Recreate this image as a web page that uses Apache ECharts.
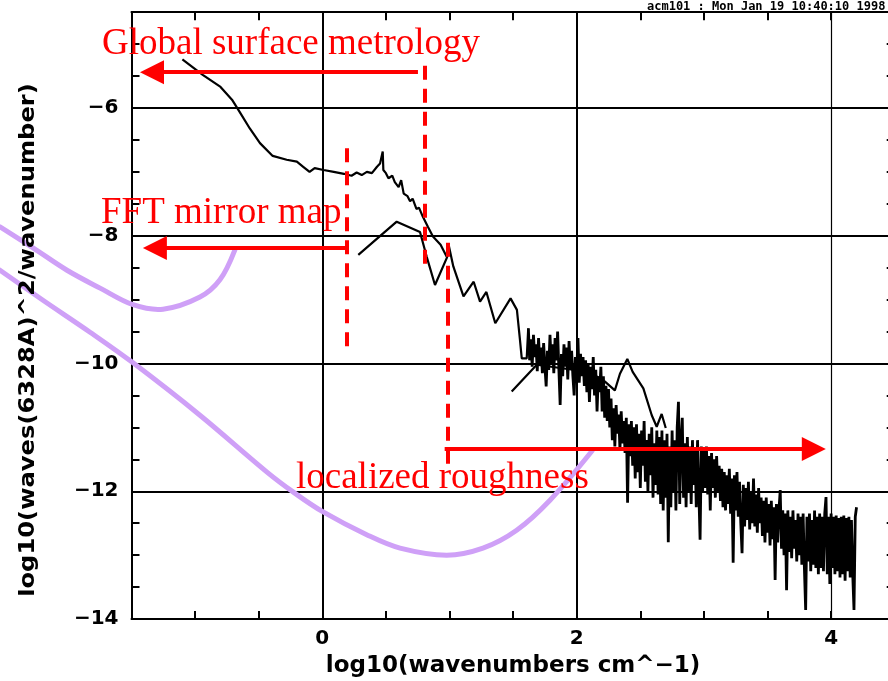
<!DOCTYPE html>
<html><head><meta charset="utf-8">
<script src="https://cdn.jsdelivr.net/npm/echarts@6/dist/echarts.min.js"></script>
<style>html,body{margin:0;padding:0;background:#fff}#c{width:888px;height:681px}</style>
</head><body><div id="c"></div>
<script>
// ---- axis ranges / ticks ----
const xRange = [-1.5, 4.5];
const yRange = [-14, -4.5];
const tickStep = 0.5;
const majorX = [0, 2, 4];
const majorY = [-6, -8, -10, -12];

// ---- black data curves [log10 wavenumber, log10 power] ----
const globalCurve = [[-1.10,-5.24],[-0.94,-5.48],[-0.80,-5.67],[-0.71,-5.87],[-0.65,-6.06],[-0.57,-6.32],[-0.49,-6.55],[-0.39,-6.75],[-0.28,-6.81],[-0.20,-6.84],[-0.15,-6.92],[-0.10,-7.00],[-0.06,-6.94],[0.01,-6.97],[0.09,-7.00],[0.17,-7.03],[0.23,-7.06],[0.27,-7.01],[0.31,-7.05],[0.35,-7.00],[0.39,-7.02],[0.43,-6.92],[0.454,-6.87],[0.475,-6.68],[0.48,-6.97],[0.50,-7.02],[0.52,-7.10],[0.55,-7.06],[0.57,-7.16],[0.60,-7.24],[0.62,-7.13],[0.64,-7.34],[0.67,-7.38],[0.69,-7.46],[0.71,-7.42],[0.74,-7.58],[0.76,-7.56],[0.79,-7.70],[0.83,-7.86],[0.87,-8.01],[0.93,-8.14],[0.978,-8.33],[0.991,-8.12],[1.03,-8.48],[1.11,-8.95],[1.19,-8.72],[1.24,-9.03],[1.29,-8.88],[1.36,-9.37],[1.48,-8.98],[1.53,-9.16],[1.554,-9.63],[1.568,-9.92],[1.607,-9.92],[1.619,-9.45]];
const fftCurve = [[0.283,-8.30],[0.585,-7.78],[0.768,-7.94],[0.821,-8.33],[0.886,-8.77],[0.978,-8.35],[0.99,-8.28]];
const sliceCurve = [[1.489,-10.44],[1.686,-10.02],[1.87,-10.07],[2.10,-10.13],[2.22,-10.28],[2.30,-10.42],[2.34,-10.16],[2.398,-9.93],[2.44,-10.13],[2.524,-10.39],[2.59,-10.81],[2.629,-10.99],[2.668,-10.79],[2.70,-11.01]];
const roughness = [[1.62,-9.45],[1.63,-9.95],[1.64,-9.62],[1.65,-10.05],[1.66,-9.55],[1.67,-9.9],[1.68,-9.7],[1.69,-10.12],[1.70,-9.6],[1.71,-10.0],[1.72,-9.75],[1.73,-10.15],[1.74,-9.68],[1.75,-10.05],[1.76,-10.36],[1.77,-9.8],[1.78,-10.1],[1.79,-9.55],[1.80,-10.0],[1.81,-9.7],[1.82,-10.15],[1.83,-9.6],[1.84,-9.95],[1.85,-9.5],[1.86,-10.1],[1.87,-10.65],[1.88,-9.85],
[1.89,-10.2],[1.90,-9.7],[1.91,-10.05],[1.92,-9.75],[1.93,-10.25],[1.94,-9.65],[1.95,-10.1],[1.96,-9.8],[1.97,-10.2],[1.98,-10.5],[1.99,-9.9],[2.00,-10.15],[2.01,-9.6],[2.02,-10.3],[2.03,-9.85],[2.04,-10.2],[2.05,-9.9],
[2.06,-10.35],[2.07,-9.95],[2.08,-10.45],[2.09,-10.0],[2.10,-10.6],[2.11,-10.05],[2.12,-10.4],[2.13,-9.9],[2.14,-10.5],[2.15,-10.1],[2.16,-10.75],[2.17,-10.2],[2.18,-10.45],[2.19,-10.05],[2.20,-10.75],[2.21,-10.2],[2.22,-10.85],[2.23,-10.35],[2.24,-10.9],[2.25,-10.4],
[2.26,-11.0],[2.27,-10.55],[2.28,-11.2],[2.29,-10.7],[2.30,-11.3],[2.31,-10.65],[2.32,-11.1],[2.33,-10.8],[2.34,-11.35],[2.35,-10.75],[2.36,-11.25],[2.37,-10.9],[2.38,-11.4],[2.39,-10.85],[2.40,-12.18],[2.41,-10.95],[2.42,-11.45],
[2.43,-10.9],[2.44,-11.6],[2.45,-11.0],[2.46,-11.8],[2.47,-10.95],[2.48,-11.7],[2.49,-11.1],[2.50,-11.95],[2.51,-11.05],[2.52,-11.6],[2.53,-10.9],[2.54,-11.85],[2.55,-11.2],[2.56,-12.0],[2.57,-11.1],[2.58,-11.75],[2.59,-11.0],[2.60,-12.1],[2.61,-11.25],[2.62,-11.9],[2.63,-11.05],[2.64,-12.05],[2.65,-11.15],
[2.66,-12.2],[2.67,-11.05],[2.68,-12.3],[2.69,-11.2],[2.70,-12.1],[2.71,-11.1],[2.72,-12.8],[2.73,-11.3],[2.74,-12.25],[2.75,-11.05],[2.76,-12.0],[2.77,-11.2],[2.78,-12.3],[2.79,-11.0],[2.80,-10.6],[2.81,-12.2],
[2.82,-11.2],[2.83,-10.85],[2.84,-12.1],[2.85,-11.25],[2.86,-12.25],[2.87,-11.15],[2.88,-12.0],[2.89,-11.3],[2.90,-12.2],[2.91,-11.2],[2.92,-11.9],[2.93,-11.35],[2.94,-12.25],[2.95,-11.2],[2.96,-12.0],[2.97,-12.76],[2.98,-11.3],
[2.99,-12.0],[3.00,-11.35],[3.01,-11.95],[3.02,-11.3],[3.03,-12.05],[3.04,-11.45],[3.05,-12.3],[3.06,-11.4],[3.07,-11.95],[3.08,-11.5],[3.09,-12.1],[3.10,-11.45],[3.11,-12.0],[3.12,-11.6],[3.13,-12.15],
[3.14,-11.65],[3.15,-12.25],[3.16,-11.7],[3.17,-12.3],[3.18,-11.75],[3.19,-12.2],[3.20,-11.65],[3.21,-12.35],[3.22,-11.8],[3.23,-13.12],[3.24,-11.75],[3.25,-12.3],[3.26,-11.7],[3.27,-12.4],[3.28,-11.85],
[3.29,-12.5],[3.30,-12.97],[3.31,-11.9],[3.32,-12.55],[3.33,-11.95],[3.34,-12.45],[3.35,-11.85],[3.36,-12.6],[3.37,-12.0],[3.38,-12.5],[3.39,-11.8],[3.40,-12.55],[3.41,-12.05],[3.42,-12.65],[3.43,-11.95],[3.44,-12.5],
[3.45,-12.1],[3.46,-12.7],[3.47,-12.15],[3.48,-12.8],[3.49,-12.1],[3.50,-12.65],[3.51,-12.2],[3.52,-12.85],[3.53,-12.15],[3.54,-12.75],[3.55,-12.25],[3.56,-13.39],[3.57,-12.2],[3.58,-12.8],[3.59,-12.3],[3.60,-11.98],[3.61,-12.9],
[3.62,-12.3],[3.63,-13.0],[3.64,-12.35],[3.65,-13.55],[3.66,-12.3],[3.67,-12.95],[3.68,-12.4],[3.69,-13.05],[3.70,-12.3],[3.71,-12.9],[3.72,-12.45],[3.73,-13.1],[3.74,-12.35],[3.75,-13.0],[3.76,-12.4],
[3.77,-13.15],[3.78,-12.35],[3.79,-13.2],[3.80,-13.86],[3.81,-12.4],[3.82,-13.1],[3.83,-12.35],[3.84,-13.25],[3.85,-12.45],[3.86,-13.15],[3.87,-12.3],[3.88,-13.2],[3.89,-12.4],[3.90,-13.3],[3.91,-12.35],
[3.92,-13.2],[3.93,-12.4],[3.94,-13.25],[3.95,-12.35],[3.96,-12.09],[3.97,-13.3],[3.98,-12.4],[3.99,-13.45],[4.00,-12.35],[4.01,-13.2],[4.02,-12.4],[4.03,-13.3],[4.04,-12.38],[4.05,-13.25],[4.06,-12.42],[4.07,-13.35],
[4.08,-12.4],[4.09,-13.3],[4.10,-12.38],[4.11,-13.4],[4.12,-12.42],[4.13,-13.25],[4.14,-12.4],[4.15,-13.35],[4.16,-12.45],[4.17,-13.3],[4.18,-13.86],[4.19,-12.4],[4.20,-12.25]];

// ---- purple hand-drawn curves ----
const purpleUpper = [[-2.534,-7.86],[-2.274,-8.19],[-2.007,-8.54],[-1.747,-8.82],[-1.488,-9.08],[-1.252,-9.15],[-0.962,-8.96],[-0.805,-8.69],[-0.687,-8.22]];
const purpleLower = [[-2.534,-8.54],[-2.196,-9.01],[-1.826,-9.51],[-1.488,-9.99],[-0.962,-10.81],[-0.435,-11.70],[-0.230,-12.01],[0.003,-12.32],[0.349,-12.68],[0.611,-12.89],[0.978,-13.00],[1.263,-12.89],[1.528,-12.61],[1.790,-12.14],[2.120,-11.37]];

// ---- red annotations ----
const arrowLines = [
  [[0.752,-5.44],[-1.339,-5.44]],
  [[0.192,-8.19],[-1.316,-8.19]],
  [[0.962,-11.34],[3.864,-11.34]]
];
const dashLines = [
  [[0.808,-5.34],[0.808,-8.54]],
  [[0.192,-6.63],[0.192,-9.87]],
  [[0.986,-8.11],[0.986,-11.62]]
];
const redTexts = [
  {text:'Global surface metrology', x:102, y:44},
  {text:'FFT mirror map', x:101, y:213},
  {text:'localized roughness', x:296, y:478}
];
const yTitle = 'log10(waves(6328A)^2/wavenumber)';
const xTitle = 'log10(wavenumbers cm^\u22121)';
const stamp = 'acm101 : Mon Jan 19 10:40:10 1998';

const chart = echarts.init(document.getElementById('c'), null, {renderer:'canvas'});
const fmt = v => (Math.abs(v % 2) < 1e-9) ? (v < 0 ? '\u2212' + Math.abs(v) : String(Math.abs(v))) : '';
const labelFont = {color:'#000', fontFamily:'DejaVu Sans', fontWeight:'bold', fontSize:20};
const axLine = {show:true, onZero:false, lineStyle:{color:'#000', width:2}};
const axTick = {show:true, inside:true, length:8, lineStyle:{color:'#000', width:2}};

const blackLine = (data, w) => ({type:'line', data, showSymbol:false, symbol:'none', z:3,
  lineStyle:{color:'#000', width:w}, clip:false, animation:false});
const purpleCurve = pts => ({type:'custom', coordinateSystem:'cartesian2d', clip:false, z:5, silent:true,
  data:[[0,-10]],
  renderItem:(params, api) => ({type:'polyline',
    shape:{points: pts.map(p => api.coord(p)), smooth:0.35},
    style:{stroke:'#cfa0f7', lineWidth:5, fill:null, lineCap:'round'}})});

chart.setOption({
  animation:false,
  backgroundColor:'#fff',
  grid:{left:131.5, top:12.2, width:763.2, height:606.8, outerBoundsMode:'none', containLabel:false},
  xAxis:[
    {type:'value', min:xRange[0], max:xRange[1], interval:tickStep, position:'bottom',
     axisLine:axLine, axisTick:axTick, splitLine:{show:false},
     axisLabel:Object.assign({formatter:fmt, margin:10}, labelFont),
     name:xTitle, nameLocation:'middle', nameGap:36,
     nameTextStyle:{color:'#000', fontFamily:'DejaVu Sans', fontWeight:'bold', fontSize:23}},
    {type:'value', min:xRange[0], max:xRange[1], interval:tickStep, position:'top',
     axisLine:axLine, axisTick:axTick, splitLine:{show:false}, axisLabel:{show:false}}
  ],
  yAxis:[
    {type:'value', min:yRange[0], max:yRange[1], interval:tickStep, position:'left',
     axisLine:axLine, axisTick:axTick, splitLine:{show:false},
     axisLabel:Object.assign({formatter:fmt, margin:13}, labelFont)},
    {type:'value', min:yRange[0], max:yRange[1], interval:tickStep, position:'right',
     axisLine:axLine, axisTick:axTick, splitLine:{show:false}, axisLabel:{show:false}}
  ],
  series:[
    {type:'line', data:[], z:1, silent:true,
     markLine:{silent:true, symbol:['none','none'], animation:false, label:{show:false},
       lineStyle:{color:'#000', width:2, type:'solid'},
       data: majorX.map(v => ({xAxis:v, lineStyle:{width: v===4 ? 1.2 : 2, color:'#000', type:'solid'}}))
             .concat(majorY.map(v => ({yAxis:v})))}},
    blackLine(globalCurve, 2.2),
    blackLine(fftCurve, 2.2),
    blackLine(sliceCurve, 2.2),
    blackLine(roughness, 2.8),
    purpleCurve(purpleUpper),
    purpleCurve(purpleLower),
    {type:'lines', coordinateSystem:'cartesian2d', z:8, symbol:['none','triangle'], symbolSize:24,
     lineStyle:{color:'#ff0000', width:4, opacity:1, curveness:0},
     data: arrowLines.map(c => ({coords:c}))},
    {type:'lines', coordinateSystem:'cartesian2d', z:8, symbol:['none','none'],
     lineStyle:{color:'#ff0000', width:4, opacity:1, curveness:0, type:[14,9]},
     data: dashLines.map(c => ({coords:c}))}
  ],
  graphic: redTexts.map(t => ({type:'text', x:t.x, y:t.y, z:100,
      style:{text:t.text, fill:'#ff0000', fontFamily:'Liberation Serif', fontSize:37, align:'left', verticalAlign:'middle'}}))
    .concat([
      {type:'text', x:647, y:7, z:100,
       style:{text:stamp, fill:'#000', fontFamily:'DejaVu Sans Mono', fontWeight:'bold', fontSize:12, align:'left', verticalAlign:'middle'}},
      {type:'text', x:28, y:340, rotation:Math.PI/2, scaleX:1.1, z:100,
       style:{text:yTitle, fill:'#000', fontFamily:'DejaVu Sans', fontWeight:'bold', fontSize:22, align:'center', verticalAlign:'middle'}}
    ])
});
</script></body></html>
